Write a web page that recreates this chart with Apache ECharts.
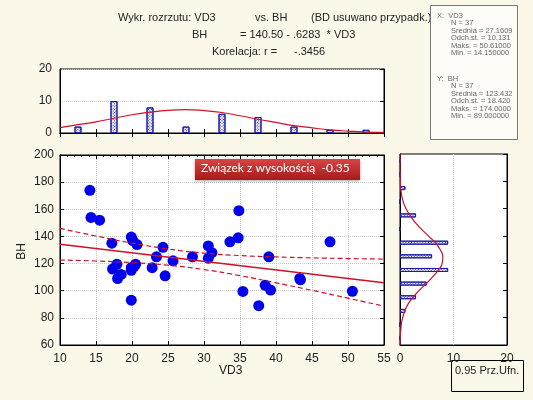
<!DOCTYPE html>
<html lang="pl">
<head>
    <meta charset="UTF-8">
    <title>Wykres rozrzutu VD3 vs BH</title>
    <script src="https://cdn.jsdelivr.net/npm/echarts@6/dist/echarts.min.js"></script>
    <style>
        html, body { margin: 0; padding: 0; background: #fbf8ea; }
        #chart { width: 533px; height: 400px; }
    </style>
</head>
<body>
    <div id="chart"></div>

    <script>
        // Punkty pomiarowe (VD3, BH)
        var vd3 = [14.15, 14.3, 15.5, 17.2, 17.9, 17.3, 18.0, 18.5, 19.9, 19.9, 19.9, 19.9,
                   20.5, 20.7, 22.8, 23.4, 24.3, 24.6, 20.3, 20.1, 25.7, 28.4, 30.6, 31.1,
                   30.6, 33.6, 34.75, 34.84, 35.4, 37.6, 38.5, 39.0, 39.25, 43.3, 43.4, 47.5, 50.61];
        var bh  = [174, 154, 152, 135, 119.5, 116, 109, 112, 139.5, 115, 93, 117,
                   119.5, 134, 117, 125, 132, 111, 118, 137, 122, 125, 133, 128,
                   124, 136, 139, 159, 99.5, 89, 104, 125, 100.5, 109, 108, 136, 99.6];

        // Histogram VD3 (srodki przedzialow co 5, liczebnosci)
        var vd3Bins   = [12.5, 17.5, 22.5, 27.5, 32.5, 37.5, 42.5, 47.5, 52.5];
        var vd3Counts = [2, 10, 8, 2, 6, 5, 2, 1, 1];
        // Krzywa normalna nad histogramem VD3
        var vd3CurveX = [10, 12.5, 15, 17.5, 20, 22.5, 25, 27.5, 30, 32.5, 35, 37.5, 40, 42.5, 45, 47.5, 50, 52.5, 55];
        var vd3CurveY = [1.7, 2.6, 3.5, 4.6, 5.7, 6.5, 7.1, 7.3, 7.0, 6.4, 5.4, 4.3, 3.3, 2.3, 1.6, 1.0, 0.6, 0.3, 0.2];

        // Histogram BH (przedzialy co 10 od 60 do 200)
        var bhBins   = ['60-70', '70-80', '80-90', '90-100', '100-110', '110-120', '120-130',
                        '130-140', '140-150', '150-160', '160-170', '170-180', '180-190', '190-200'];
        var bhCounts = [0, 0, 1, 3, 5, 9, 6, 9, 0, 3, 0, 1, 0, 0];
        // Krzywa normalna przy histogramie BH
        var bhCurveY = [60, 70, 80, 90, 100, 105, 110, 115, 120, 125, 130, 135, 140, 150, 160, 170, 180, 190, 200];
        var bhCurveX = [0.02, 0.12, 0.5, 1.5, 3.6, 4.9, 6.1, 7.2, 7.9, 8.0, 7.5, 6.6, 5.3, 2.8, 1.1, 0.3, 0.07, 0.01, 0];

        // Prosta regresji i pasmo ufnosci 0.95
        var fitX     = [10, 55];
        var fitY     = [134.2, 105.9];
        var bandX    = [10, 15, 20, 25, 30, 35, 40, 45, 50, 55];
        var bandUp   = [145.9, 140.3, 135.1, 130.8, 127.7, 125.9, 124.9, 124.2, 123.7, 123.3];
        var bandLow  = [122.6, 121.9, 120.7, 118.8, 115.6, 111.1, 105.8, 100.3, 94.5, 88.6];

        var statsX = ['X:  VD3', 'N = 37', 'Srednia = 27.160919', 'Odch.st. = 10.131580', 'Maks. = 50.610000', 'Min. = 14.150000'];
        var statsY = ['Y:  BH', 'N = 37', 'Srednia = 123.432432', 'Odch.st. = 18.420310', 'Maks. = 174.000000', 'Min. = 89.000000'];

        function zip(a, b) {
            return a.map(function (v, i) { return [v, b[i]]; });
        }

        var chart = echarts.init(document.getElementById('chart'));

        var font = 'Liberation Sans, Arial, sans-serif';
        var red = '#d0102a';
        var gridLine = { show: true, lineStyle: { color: '#c8c8c8', type: 'dotted' } };
        var noLabel = { show: false };
        var inTick = { show: true, inside: true, length: 4, lineStyle: { color: '#000' } };
        var blackLine = { show: true, lineStyle: { color: '#000' } };
        var hatch = {
            symbol: 'rect', symbolSize: 1, color: '#1a1a9a',
            dashArrayX: [1, 1], dashArrayY: [1, 1], rotation: Math.PI / 4
        };

        function txt(x, y, s, size) {
            return { type: 'text', left: x, top: y, style: { text: s, fill: '#222', font: (size || 12) + 'px ' + font } };
        }

        // Stats box text
        var statsText = [];
        function addStats(lines, top) {
            lines.forEach(function (t, i) {
                var x = i === 0 ? 437 : 451;
                statsText.push({
                    type: 'text', left: x, top: top + i * 7.4,
                    style: { text: t, fill: '#666', font: '7.5px ' + font, width: 516 - x, overflow: 'truncate', ellipsis: '' }
                });
            });
        }
        addStats(statsX, 12);
        addStats(statsY, 75);

        var option = {
            backgroundColor: '#fbf8ea',
            animation: false,
            grid: [
                { left: 60, right: 149, top: 155, bottom: 55, show: true, backgroundColor: '#fff', borderColor: '#000' },
                { left: 60, right: 149, top: 69, bottom: 267, show: true, backgroundColor: '#fff', borderColor: '#000' },
                { left: 400, width: 107, top: 154, bottom: 55, show: true, backgroundColor: '#fff', borderColor: '#000' }
            ],
            xAxis: [
                { gridIndex: 0, type: 'value', min: 10, max: 55, interval: 5, position: 'bottom',
                  axisLine: blackLine, axisTick: inTick, splitLine: gridLine,
                  axisLabel: { color: '#222', fontFamily: font, fontSize: 12, margin: 8 } },
                { gridIndex: 0, type: 'value', min: 10, max: 55, interval: 5, position: 'top',
                  axisLine: blackLine, axisTick: inTick, splitLine: { show: false }, axisLabel: noLabel,
                  minorTick: { show: true, splitNumber: 5, length: 2, lineStyle: { color: '#000' } } },
                { gridIndex: 1, type: 'value', min: 10, max: 55, interval: 5, position: 'bottom',
                  axisLine: blackLine, axisTick: inTick, splitLine: { show: false }, axisLabel: noLabel },
                { gridIndex: 1, type: 'value', min: 10, max: 55, interval: 5, position: 'top',
                  axisLine: blackLine, axisTick: inTick, splitLine: { show: false }, axisLabel: noLabel },
                { gridIndex: 2, type: 'value', min: 0, max: 20, interval: 10, position: 'bottom',
                  axisLine: blackLine, axisTick: { show: false }, splitLine: gridLine,
                  axisLabel: { color: '#222', fontFamily: font, fontSize: 12, margin: 8 } }
            ],
            yAxis: [
                { gridIndex: 0, type: 'value', min: 60, max: 200, interval: 20, position: 'left',
                  axisLine: blackLine, axisTick: inTick, splitLine: gridLine,
                  axisLabel: { color: '#222', fontFamily: font, fontSize: 12, margin: 6 } },
                { gridIndex: 0, type: 'value', min: 60, max: 200, interval: 20, position: 'right',
                  axisLine: blackLine, axisTick: inTick, splitLine: { show: false }, axisLabel: noLabel },
                { gridIndex: 1, type: 'value', min: 0, max: 20, interval: 10, position: 'left',
                  axisLine: blackLine, axisTick: { show: false }, splitLine: gridLine,
                  axisLabel: { color: '#222', fontFamily: font, fontSize: 12, margin: 8 } },
                { gridIndex: 1, type: 'value', min: 0, max: 20, interval: 10, position: 'right',
                  axisLine: blackLine, axisTick: inTick, splitLine: { show: false }, axisLabel: noLabel },
                { gridIndex: 2, type: 'category', data: bhBins, position: 'left',
                  axisLine: blackLine, axisTick: { show: false }, splitLine: { show: false }, axisLabel: noLabel },
                { gridIndex: 2, type: 'value', min: 60, max: 200, interval: 20, position: 'right',
                  axisLine: blackLine, axisTick: inTick, splitLine: { show: false }, axisLabel: noLabel }
            ],
            series: [
                {
                    type: 'bar', xAxisIndex: 2, yAxisIndex: 2, barWidth: 7,
                    data: zip(vd3Bins, vd3Counts),
                    itemStyle: { color: '#fff', borderColor: '#1c1caa', borderWidth: 1, decal: hatch }
                },
                {
                    type: 'line', xAxisIndex: 2, yAxisIndex: 2, smooth: true, showSymbol: false,
                    data: zip(vd3CurveX, vd3CurveY), lineStyle: { color: red, width: 1.2 }
                },
                {
                    type: 'bar', xAxisIndex: 4, yAxisIndex: 4, barWidth: 4,
                    data: bhCounts,
                    itemStyle: { color: '#fff', borderColor: '#1c1caa', borderWidth: 1, decal: hatch }
                },
                {
                    type: 'line', xAxisIndex: 4, yAxisIndex: 5, smooth: true, showSymbol: false,
                    data: zip(bhCurveX, bhCurveY), lineStyle: { color: red, width: 1.2 }
                },
                {
                    type: 'line', xAxisIndex: 0, yAxisIndex: 0, showSymbol: false,
                    data: zip(fitX, fitY), lineStyle: { color: red, width: 1.5 }
                },
                {
                    type: 'line', xAxisIndex: 0, yAxisIndex: 0, smooth: true, showSymbol: false,
                    data: zip(bandX, bandUp), lineStyle: { color: red, width: 1.2, type: [5, 3] }
                },
                {
                    type: 'line', xAxisIndex: 0, yAxisIndex: 0, smooth: true, showSymbol: false,
                    data: zip(bandX, bandLow), lineStyle: { color: red, width: 1.2, type: [5, 3] }
                },
                {
                    type: 'scatter', xAxisIndex: 0, yAxisIndex: 0, symbolSize: 11,
                    data: zip(vd3, bh), itemStyle: { color: '#0000ee', opacity: 1 }
                }
            ],
            graphic: [
                txt(118, 12, 'Wykr. rozrzutu: VD3', 11),
                txt(255, 12, 'vs. BH', 11),
                txt(311, 12, '(BD usuwano przypadk.)', 11),
                txt(192, 29, 'BH', 11),
                txt(240, 29, '= 140.50 - .6283  * VD3', 11),
                txt(212, 46, 'Korelacja: r =', 11),
                txt(294, 46, '-.3456', 11),
                { type: 'text', left: 16, top: 243, rotation: Math.PI / 2, style: { text: 'BH', fill: '#222', font: '12px ' + font } },
                txt(219, 365, 'VD3', 12),
                {
                    type: 'rect', left: 430, top: 5, shape: { width: 87, height: 134 },
                    style: { fill: '#fdfcf6', stroke: '#777', lineWidth: 1 }
                },
                {
                    type: 'rect', left: 195, top: 159, shape: { width: 165, height: 21 }, z: 100,
                    style: {
                        fill: new echarts.graphic.LinearGradient(0, 0, 0, 1, [
                            { offset: 0, color: '#d84545' }, { offset: 1, color: '#a51a1a' }
                        ]),
                        shadowBlur: 3, shadowColor: 'rgba(0,0,0,0.35)', shadowOffsetY: 1
                    }
                },
                { type: 'text', left: 201, top: 162, z: 101, style: { text: 'Związek z wysokością  -0.35', fill: '#fff', font: '12px Lato, sans-serif' } },
                {
                    type: 'rect', left: 451, top: 360, shape: { width: 72, height: 31 },
                    style: { fill: '#fbf8ea', stroke: '#000', lineWidth: 1 }
                },
                txt(455, 365, '0.95 Prz.Ufn.', 11)
            ].concat(statsText)
        };

        chart.setOption(option);
    </script>
</body>
</html>
